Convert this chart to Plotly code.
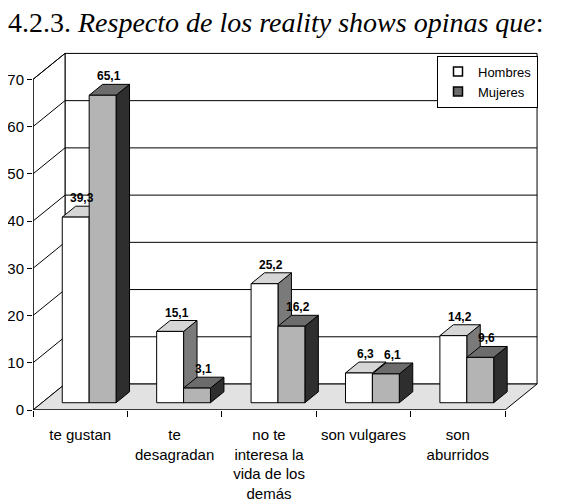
import plotly.graph_objects as go

# ---- data ----
categories = ["te gustan", "te desagradan", "no te interesa la vida de los demás",
              "son vulgares", "son aburridos"]
tick_labels = ["te gustan", "te<br>desagradan", "no te<br>interesa la<br>vida de los<br>demás",
               "son vulgares", "son<br>aburridos"]
hombres = [39.3, 15.1, 25.2, 6.3, 14.2]
mujeres = [65.1, 3.1, 16.2, 6.1, 9.6]
series_names = ["Hombres", "Mujeres"]
y_ticks = [0, 10, 20, 30, 40, 50, 60, 70]

# ---- 3D projection constants (style) ----
YMAX = y_ticks[-1]
DX = 0.339   # depth offset along x (category units)
DY = 5.5     # depth offset along y (value units)
D0, D1 = 0.28, 0.70   # bar front/back depth fractions
BW = 0.285            # bar width (category units)
N = len(categories)
XL, XR = -0.5, N - 0.5

FONT = "Arial, Liberation Sans, sans-serif"
styles = {
    "Hombres": dict(front="#ffffff", top="#d6d6d6", side="#7a7a7a", legend="#ffffff"),
    "Mujeres": dict(front="#b4b4b4", top="#6c6c6c", side="#2e2e2e", legend="#6c6c6c"),
}

fig = go.Figure()


def poly(xs, ys, fill, line="black", width=1):
    fig.add_trace(go.Scatter(
        x=xs + [xs[0]], y=ys + [ys[0]], mode="lines", fill="toself",
        fillcolor=fill, line=dict(color=line, width=width),
        hoverinfo="skip", showlegend=False, cliponaxis=False))


def lines(segs, color="black", width=1):
    xs, ys = [], []
    for (x0, y0, x1, y1) in segs:
        xs += [x0, x1, None]
        ys += [y0, y1, None]
    fig.add_trace(go.Scatter(x=xs, y=ys, mode="lines",
                             line=dict(color=color, width=width),
                             hoverinfo="skip", showlegend=False, cliponaxis=False))


# back wall
poly([XL + DX, XR + DX, XR + DX, XL + DX], [DY, DY, YMAX + DY, YMAX + DY], "white")
# left wall
poly([XL, XL + DX, XL + DX, XL], [0, DY, YMAX + DY, YMAX], "white")
# floor
poly([XL, XR, XR + DX, XL + DX], [0, 0, DY, DY], "#e2e2e2")
# gridlines on back wall and left wall
lines([(XL + DX, v + DY, XR + DX, v + DY) for v in y_ticks[1:-1]])
lines([(XL, v, XL + DX, v + DY) for v in y_ticks[1:]])
# front value axis and front floor edge
lines([(XL, 0, XL, YMAX), (XL, 0, XR, 0)], width=1.2)

# bars
annotations = []
for i in range(N):
    for s, (name, vals) in enumerate(zip(series_names, [hombres, mujeres])):
        v = vals[i]
        st = styles[name]
        xl = i - BW + s * BW
        xr = xl + BW
        fx0, fx1 = xl + D0 * DX, xr + D0 * DX
        bx0, bx1 = xl + D1 * DX, xr + D1 * DX
        fy0, by0 = D0 * DY, D1 * DY
        # side
        poly([fx1, bx1, bx1, fx1], [fy0, by0, v + by0, v + fy0], st["side"])
        # top
        poly([fx0, fx1, bx1, bx0], [v + fy0, v + fy0, v + by0, v + by0], st["top"])
        # front
        poly([fx0, fx1, fx1, fx0], [fy0, fy0, v + fy0, v + fy0], st["front"])
        annotations.append(dict(
            x=(fx0 + bx1) / 2, y=v + by0, text="<b>" + f"{v:.1f}".replace(".", ",") + "</b>",
            showarrow=False, yanchor="bottom", xanchor="center", yshift=-1,
            font=dict(family=FONT, size=12, color="black")))

# legend entries
for name in series_names:
    fig.add_trace(go.Scatter(
        x=[None], y=[None], mode="markers", name=name,
        marker=dict(symbol="square", size=9, color=styles[name]["legend"],
                    line=dict(color="black", width=1.5))))

fig.update_layout(
    width=559, height=496,
    margin=dict(l=25, r=29, t=44, b=94, autoexpand=False),
    paper_bgcolor="white", plot_bgcolor="white",
    title=dict(text="4.2.3. <i>Respecto de los reality shows opinas que</i>:",
               x=0, xref="container", xanchor="left",
               y=1 - 14 / 496, yref="container", yanchor="middle",
               font=dict(family="Liberation Serif, Times New Roman, serif", size=28, color="black")),
    xaxis=dict(range=[XL, XR + DX + 0.01], tickvals=list(range(N)), ticktext=tick_labels,
               ticks="", showgrid=False, zeroline=False, showline=False, automargin=False,
               tickfont=dict(family=FONT, size=15, color="black"),
               ticklabelstandoff=14,
               minor=dict(tickvals=[k - 0.5 for k in range(N + 1)], ticks="outside",
                          ticklen=6, tickcolor="black", tickwidth=1, showgrid=False)),
    yaxis=dict(range=[0, YMAX + DY + 0.3], tickvals=y_ticks, ticks="outside", ticklen=5,
               tickcolor="black", showgrid=False, zeroline=False, showline=False, automargin=False,
               tickfont=dict(family=FONT, size=15, color="black")),
    showlegend=True,
    legend=dict(x=1.0, xanchor="right", y=0.99, yanchor="top",
                bgcolor="white", bordercolor="black", borderwidth=1,
                font=dict(family=FONT, size=13, color="black"),
                itemwidth=30, tracegroupgap=0),
    annotations=annotations,
)

fig.write_html("out.html")
